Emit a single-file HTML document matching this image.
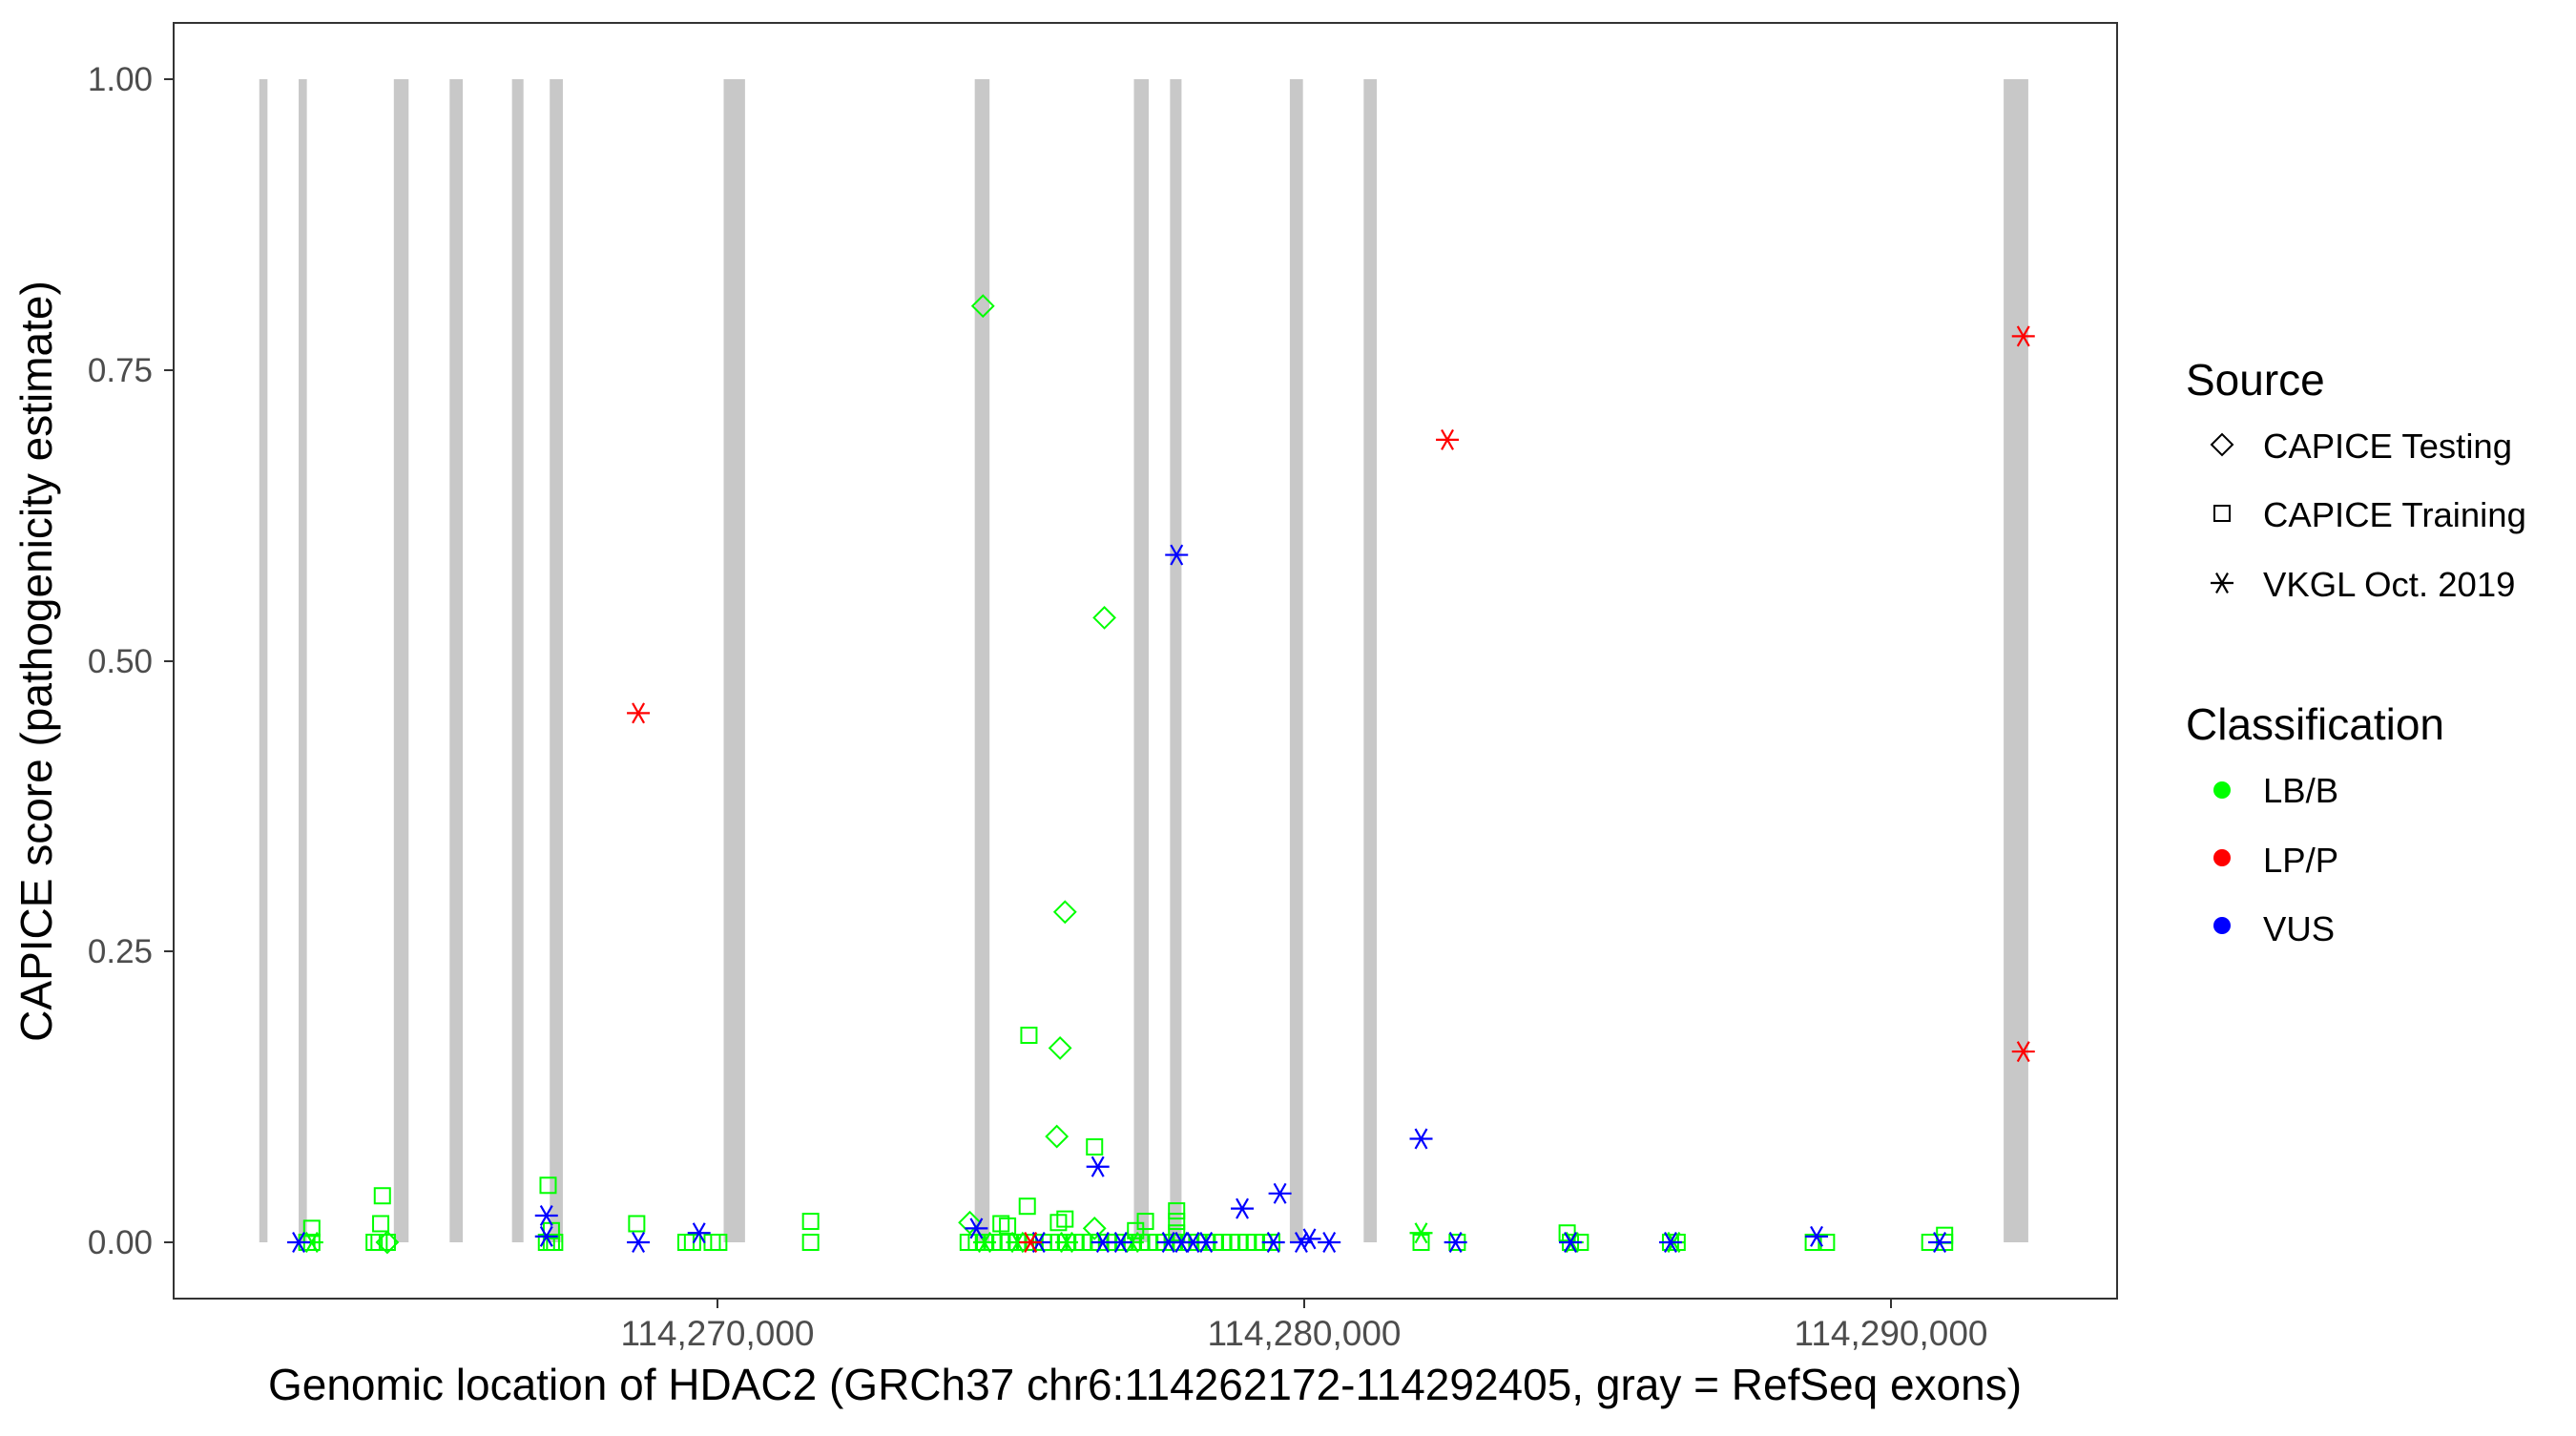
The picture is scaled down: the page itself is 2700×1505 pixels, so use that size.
<!DOCTYPE html>
<html><head><meta charset="utf-8"><style>
html,body{margin:0;padding:0;background:#fff;}
svg text{font-family:"Liberation Sans",Arial,sans-serif;}
</style></head><body>
<svg id="s" width="2700" height="1500" xmlns="http://www.w3.org/2000/svg">
<rect width="2700" height="1500" fill="#fff"/>
<g id="ex"></g>
<g id="pts"></g>
<rect x="182" y="24" width="2037" height="1337" fill="none" stroke="#333" stroke-width="2"/>
<g fill="#4d4d4d" font-size="35" text-anchor="end">
<text x="160" y="95">1.00</text>
<text x="160" y="400">0.75</text>
<text x="160" y="705">0.50</text>
<text x="160" y="1009">0.25</text>
<text x="160" y="1314">0.00</text>
</g>
<g stroke="#333" stroke-width="2">
<line x1="172" x2="182" y1="83" y2="83"/><line x1="172" x2="182" y1="388" y2="388"/>
<line x1="172" x2="182" y1="693" y2="693"/><line x1="172" x2="182" y1="997" y2="997"/>
<line x1="172" x2="182" y1="1302" y2="1302"/>
<line x1="752" x2="752" y1="1361" y2="1371"/><line x1="1367" x2="1367" y1="1361" y2="1371"/><line x1="1982" x2="1982" y1="1361" y2="1371"/>
</g>
<g fill="#4d4d4d" font-size="37" text-anchor="middle">
<text x="752" y="1410">114,270,000</text>
<text x="1367" y="1410">114,280,000</text>
<text x="1982" y="1410">114,290,000</text>
</g>
<text x="1200" y="1467" font-size="46" text-anchor="middle">Genomic location of HDAC2 (GRCh37 chr6:114262172-114292405, gray = RefSeq exons)</text>
<text transform="translate(54,693) rotate(-90)" font-size="46" text-anchor="middle">CAPICE score (pathogenicity estimate)</text>
<g font-size="46"><text x="2291" y="414">Source</text><text x="2291" y="775">Classification</text></g>
<g font-size="36.5">
<text x="2372" y="480">CAPICE Testing</text>
<text x="2372" y="552">CAPICE Training</text>
<text x="2372" y="625">VKGL Oct. 2019</text>
<text x="2372" y="841">LB/B</text>
<text x="2372" y="914">LP/P</text>
<text x="2372" y="986">VUS</text>
</g>
<g id="leg"></g>
</svg>
<script>
var NS="http://www.w3.org/2000/svg";
function el(p,t,a){var e=document.createElementNS(NS,t);for(var k in a)e.setAttribute(k,a[k]);p.appendChild(e);return e;}
var ex=document.getElementById('ex');
[[158,163],[182,187],[240,249],[274,282],[312,319],[335,343],[441,454],[594,603],[691,700],[713,720],[786,794],[831,839],[1221,1236]].forEach(function(r){
 el(ex,'rect',{x:r[0]*1.72,y:83,width:(r[1]-r[0])*1.72,height:1219,fill:'#c8c8c8'});});
var P=document.getElementById('pts');
var C={g:'#00ff00',r:'#ff0000',b:'#0000ff'};
function mk(g,shape,x,y,col){
 if(shape=='d'){el(g,'polygon',{points:(x-11)+','+y+' '+x+','+(y-11)+' '+(x+11)+','+y+' '+x+','+(y+11),fill:'none',stroke:col,'stroke-width':2});}
 else if(shape=='s'){el(g,'rect',{x:x-8,y:y-8,width:16,height:16,fill:'none',stroke:col,'stroke-width':2});}
 else {var r=12;el(g,'line',{x1:x-r,y1:y,x2:x+r,y2:y,stroke:col,'stroke-width':2.2});
  el(g,'line',{x1:x-r*0.5,y1:y-r*0.87,x2:x+r*0.5,y2:y+r*0.87,stroke:col,'stroke-width':2.2});
  el(g,'line',{x1:x-r*0.5,y1:y+r*0.87,x2:x+r*0.5,y2:y-r*0.87,stroke:col,'stroke-width':2.2});}
}
function pt(s,mx,v,c){mk(P,s,mx*1.72,1302-v*1219,C[c]);}
[187,190,228,231,236,333,336,338,418,422,434,438,494,590,595,600,605,610,615,620,625,630,636,640,645,650,655,660,665,670,675,680,685,690,695,700,705,710,715,720,725,730,735,740,745,750,755,760,765,770,775,866,888,957,963,1018,1022,1105,1113,1176,1185].forEach(function(x){pt('s',x,0,'g');});
[[190,0.012],[233,0.04],[232,0.016],[334,0.049],[336,0.01],[388,0.016],[494,0.018],[610,0.016],[614,0.014],[626,0.031],[627,0.178],[645,0.017],[649,0.02],[667,0.082],[698,0.018],[692,0.01],[717,0.027],[717,0.018],[717,0.008],[955,0.008],[1185,0.006]].forEach(function(a){pt('s',a[0],a[1],'g');});
[[599,0.805],[673,0.537],[649,0.284],[646,0.167],[644,0.091],[591,0.017],[667,0.012],[236,0]].forEach(function(a){pt('d',a[0],a[1],'g');});
[[600,0],[620,0],[650,0],[690,0],[866,0.008],[1020,0],[958,0],[190,0]].forEach(function(a){pt('a',a[0],a[1],'g');});
[[717,0.591],[866,0.089],[669,0.065],[780,0.042],[757,0.029],[333,0.023],[595,0.012],[426,0.008],[333,0.005],[1107,0.005],[182,0],[389,0],[633,0],[672,0],[683,0],[712,0],[720,0],[727,0],[735,0],[776,0],[793,0],[798,0.003],[810,0],[887,0],[957,0],[1018,0],[1182,0]].forEach(function(a){pt('a',a[0],a[1],'b');});
[[389,0.455],[882,0.69],[1233,0.779],[1233,0.164],[628,0]].forEach(function(a){pt('a',a[0],a[1],'r');});
var L=document.getElementById('leg');
mk(L,'d',2329,466,'#000');mk(L,'s',2329,538,'#000');mk(L,'a',2329,611,'#000');
el(L,'circle',{cx:2329,cy:828,r:9,fill:'#00ff00'});
el(L,'circle',{cx:2329,cy:899,r:9,fill:'#ff0000'});
el(L,'circle',{cx:2329,cy:970,r:9,fill:'#0000ff'});
</script>
</body></html>
